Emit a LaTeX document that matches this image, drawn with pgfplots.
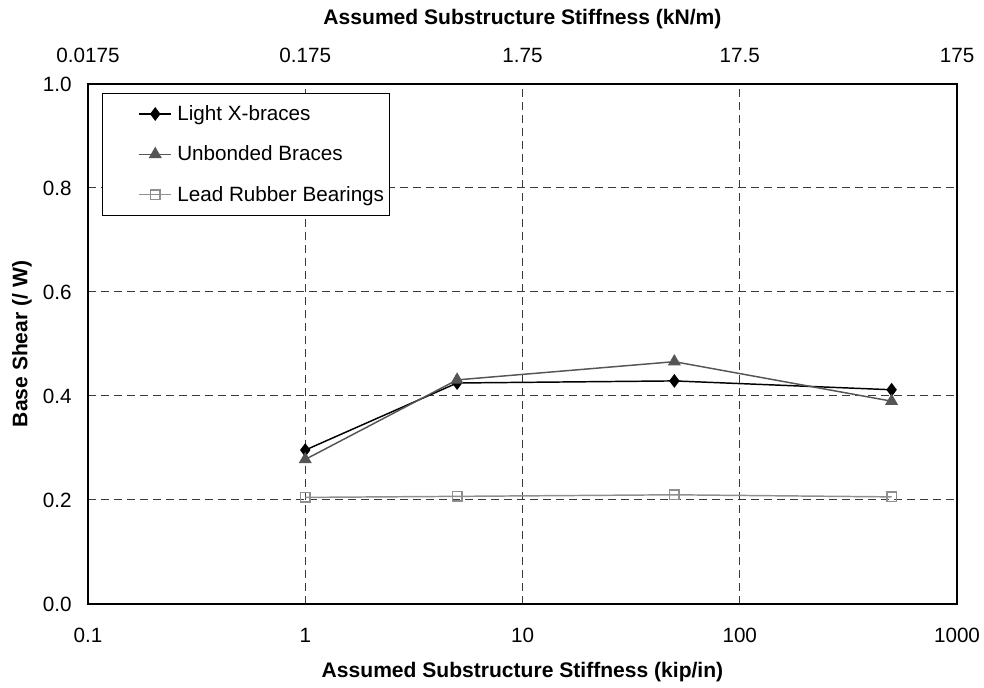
\documentclass[border=0pt]{standalone}
\usepackage{pgfplots}
\pgfplotsset{compat=1.18}
\usepackage{fontspec}
\setmainfont{Liberation Sans}
\usetikzlibrary{calc}
\definecolor{ubc}{HTML}{555555}
\definecolor{lrb}{HTML}{8F8F8F}
\definecolor{gridc}{HTML}{3A3A3A}
\begin{document}
\begin{tikzpicture}[x=0.75pt,y=0.75pt]
\pgfplotsset{
  every axis/.style={width=651.75pt,height=390pt,scale only axis,
    /pgf/number format/assume math mode=true,
    tick label style={font=\fontsize{15.5}{18}\selectfont, inner sep=0pt},
    label style={font=\bfseries\fontsize{15.8}{18}\selectfont},
    axis line style={black, line width=0.8pt},
  },
}
\begin{axis}[
  name=main,
  xmode=log, xmin=0.1, xmax=1000,
  ymin=0, ymax=1,
  xtick={0.1,1,10,100,1000},
  xticklabels={0.1,1,10,100,1000},
  xminorticks=false,
  ytick={0,0.2,0.4,0.6,0.8,1.0},
  yticklabel style={/pgf/number format/fixed,/pgf/number format/fixed zerofill,/pgf/number format/precision=1,
     anchor=east, xshift=-12pt},
  xticklabel style={anchor=center, yshift=-23.25pt},
  major tick length=0pt,
  xmajorgrids, ymajorgrids,
  major grid style={dash pattern=on 6pt off 3.75pt, gridc, line width=0.75pt},
  xlabel={Assumed Substructure Stiffness (kip/in)},
  xlabel style={at={(axis description cs:0.5,0)}, anchor=center, yshift=-51pt},
  ylabel={Base Shear (/ W)},
  ylabel style={at={(axis description cs:0,0.5)}, anchor=center, rotate=0, yshift=49.5pt},
  legend style={at={(axis description cs:0.0161,0.9827)},anchor=north west,draw=black,line width=0.8pt,
    font=\fontsize{15.5}{18}\selectfont,
    row sep=13.5pt, inner xsep=2pt, inner ysep=7pt, cells={anchor=west}},
  legend image code/.code={\path (0pt,0pt); \path (51pt,0pt);
    \draw[mark repeat=2,mark phase=2,#1] plot coordinates {(25pt,0pt) (37pt,0pt) (49pt,0pt)};},
]
\addplot[black, line width=1.1pt, mark=diamond*, mark size=4.3pt, mark options={solid,fill=black}]
  coordinates {(1,0.296) (5,0.425) (50,0.429) (500,0.412)};
\addlegendentry{Light X-braces}
\addplot[ubc, line width=1.1pt, mark=triangle*, mark size=4.6pt, mark options={solid,fill=ubc}]
  coordinates {(1,0.278) (5,0.431) (50,0.466) (500,0.390)};
\addlegendentry{Unbonded Braces}
\addplot[lrb, line width=1.1pt, mark=square, mark size=3.6pt, mark options={solid,draw=lrb,fill=white}]
  coordinates {(1,0.205) (5,0.207) (50,0.210) (500,0.206)};
\addlegendentry{Lead Rubber Bearings}
\coordinate (sw) at (rel axis cs:0,0);
\coordinate (ne) at (rel axis cs:1,1);
\end{axis}
\begin{axis}[
  xmode=log, xmin=0.1, xmax=1000,
  ymin=0, ymax=1,
  axis x line*=top,
  axis y line=none,
  ytick=\empty,
  xtick={0.1,1,10,100,1000},
  xticklabels={0.0175,0.175,1.75,17.5,175},
  xminorticks=false,
  major tick length=0pt,
  xticklabel style={anchor=center, yshift=21.2pt},
  xlabel={Assumed Substructure Stiffness (kN/m)},
  xlabel style={at={(axis description cs:0.5,1)}, anchor=center, yshift=49pt},
]
\addplot[draw=none] coordinates {(1,0)};
\end{axis}
\pgfresetboundingbox
\path ($(sw)+(-88,-84)$) rectangle ($(ne)+(27,84)$);
\end{tikzpicture}
\end{document}
